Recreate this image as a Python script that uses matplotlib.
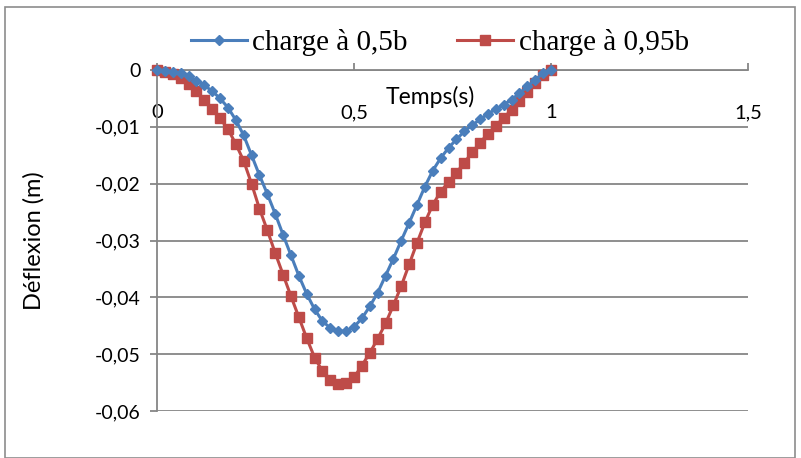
import matplotlib
matplotlib.use("Agg")
import matplotlib.pyplot as plt
from matplotlib.patches import Rectangle

# ---- data ----
temps = [0.00, 0.02, 0.04, 0.06, 0.08, 0.10, 0.12, 0.14, 0.16, 0.18,
         0.20, 0.22, 0.24, 0.26, 0.28, 0.30, 0.32, 0.34, 0.36, 0.38,
         0.40, 0.42, 0.44, 0.46, 0.48, 0.50, 0.52, 0.54, 0.56, 0.58,
         0.60, 0.62, 0.64, 0.66, 0.68, 0.70, 0.72, 0.74, 0.76, 0.78,
         0.80, 0.82, 0.84, 0.86, 0.88, 0.90, 0.92, 0.94, 0.96, 0.98, 1.00]

charge_05b = [0.0, -0.0001, -0.0003, -0.0006, -0.0010, -0.0019, -0.0027, -0.0037, -0.0050, -0.0066,
              -0.0088, -0.0115, -0.0150, -0.0185, -0.0218, -0.0253, -0.0290, -0.0326, -0.0362, -0.0394,
              -0.0421, -0.0442, -0.0454, -0.0460, -0.0459, -0.0452, -0.0437, -0.0416, -0.0392, -0.0362,
              -0.0332, -0.0300, -0.0269, -0.0237, -0.0205, -0.0177, -0.0155, -0.0137, -0.0122, -0.0108,
              -0.0097, -0.0087, -0.0077, -0.0069, -0.0061, -0.0052, -0.0041, -0.0029, -0.0017, -0.0006, 0.0]

charge_095b = [0.0, -0.0003, -0.0007, -0.0014, -0.0024, -0.0037, -0.0053, -0.0068, -0.0085, -0.0104,
               -0.0130, -0.0160, -0.0200, -0.0244, -0.0282, -0.0322, -0.0360, -0.0398, -0.0435, -0.0472,
               -0.0506, -0.0530, -0.0545, -0.0552, -0.0551, -0.0541, -0.0520, -0.0498, -0.0473, -0.0446,
               -0.0414, -0.0380, -0.0342, -0.0304, -0.0268, -0.0237, -0.0214, -0.0197, -0.0181, -0.0163,
               -0.0145, -0.0128, -0.0112, -0.0098, -0.0084, -0.0070, -0.0055, -0.0038, -0.0022, -0.0009, 0.0]

x_ticks = [0, 0.5, 1, 1.5]
x_ticklabels = ["0", "0,5", "1", "1,5"]
y_ticks = [0, -0.01, -0.02, -0.03, -0.04, -0.05, -0.06]
y_ticklabels = ["0", "-0,01", "-0,02", "-0,03", "-0,04", "-0,05", "-0,06"]

series_names = ["charge à 0,5b", "charge à 0,95b"]

# ---- figure ----
plt.rcParams['font.family'] = ['Lato', 'DejaVu Sans']
fig = plt.figure(figsize=(8.01, 4.58), dpi=100)
ax = fig.add_axes([157/801, 1 - 411/458, (748 - 157)/801, (411 - 70)/458])

grid_col = "#868686"
blue = "#4A7EBB"
red = "#BE4B48"

ax.set_xlim(0, 1.5)
ax.set_ylim(-0.06, 0)
ax.set_yticks(y_ticks)
ax.set_yticklabels(y_ticklabels, fontsize=14)
ax.yaxis.grid(True, color=grid_col, linewidth=1.3)
ax.set_axisbelow(True)

ax.set_xticks(x_ticks)
ax.set_xticklabels(x_ticklabels, fontsize=14.5)
ax.tick_params(axis='x', top=True, bottom=False, labeltop=True, labelbottom=False,
               direction='out', length=5, width=1.3, color=grid_col, pad=-42)
ax.tick_params(axis='y', direction='out', length=5, width=1.3, color=grid_col, pad=7)

for s in ['right', 'bottom']:
    ax.spines[s].set_visible(False)
for s in ['left', 'top']:
    ax.spines[s].set_color(grid_col)
    ax.spines[s].set_linewidth(1.3)

l1, = ax.plot(temps, charge_05b, color=blue, lw=2.2, marker='D', markersize=5.5,
              markeredgecolor=blue, clip_on=False, zorder=4, label=series_names[0])
l2, = ax.plot(temps, charge_095b, color=red, lw=2.2, marker='s', markersize=7,
              markeredgecolor=red, clip_on=False, zorder=3, label=series_names[1])

ax.set_ylabel("Déflexion (m)", fontsize=17)
ax.yaxis.set_label_coords(-0.19, 0.5)
ax.text(0.462, 0.921, "Temps(s)", transform=ax.transAxes, fontsize=16.5,
        ha='center', va='center')

leg = fig.legend(handles=[l1, l2], loc='center', bbox_to_anchor=(440/801, 1 - 43/458),
                 ncol=2, frameon=False, prop={'family': 'Liberation Serif', 'size': 21},
                 handlelength=1.9, columnspacing=1.7, handletextpad=0.2)

fig.patches.append(Rectangle((5/801, 0), 790/801, 1 - 7/458, transform=fig.transFigure,
                             fill=False, edgecolor="#8C8C8C", linewidth=1.2))

fig.savefig("out.png", dpi=100)
